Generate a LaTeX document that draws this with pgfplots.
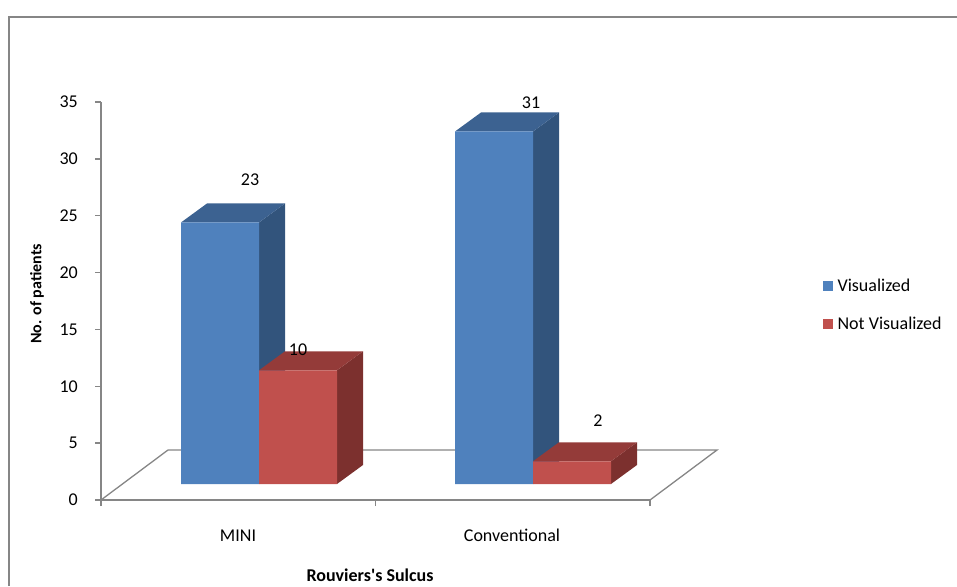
\documentclass[border=0pt]{standalone}
\usepackage{pgfplots}
\pgfplotsset{compat=1.18}
\usepackage{pgfplotstable}
\usepackage{fontspec}
\setmainfont{Carlito}
\definecolor{vblue}{HTML}{4F81BD}
\definecolor{vbluetop}{HTML}{3C6291}
\definecolor{vblueside}{HTML}{32547C}
\definecolor{nred}{HTML}{C0504D}
\definecolor{nredtop}{HTML}{943B39}
\definecolor{nredside}{HTML}{7C302E}
\definecolor{axgray}{HTML}{868686}

% front-face bar values (x = category position: MINI, Conventional)
\pgfplotstableread{
x y
137 23
411 31
}\vis
\pgfplotstableread{
x y
137 10
411 2
}\notvis

\begin{document}
\begin{tikzpicture}[font=\fontsize{18}{21}\selectfont]
\path[use as bounding box] (0,0) rectangle (957pt,586pt);
\draw[axgray, line width=2.5pt] (9pt,0pt) -- (9pt,569pt) -- (957pt,569pt);
\begin{axis}[
  at={(101pt,86pt)}, anchor=south west,
  x=1pt, y=11.371pt,
  xmin=0, xmax=549, ymin=0, ymax=35,
  enlargelimits=false, clip=false,
  axis lines*=left,
  axis line style={axgray, line width=1.3pt},
  tick style={axgray, line width=1.3pt},
  tick align=outside, major tick length=6pt,
  ytick={0,5,...,35},
  xtick={0,274.5,549}, xticklabels={},
  extra x ticks={137,411}, extra x tick labels={MINI,Conventional},
  extra x tick style={major tick length=0pt},
  xticklabel style={anchor=base, yshift=-41pt, text=black},
  yticklabel style={anchor=east, inner sep=0pt, xshift=-17pt, text=black},
  /pgf/number format/assume math mode=true,
  xlabel={\bfseries Rouviers\textquotesingle s Sulcus},
  ylabel={\fontsize{16}{19}\selectfont\bfseries No. of patients},
  xlabel style={at={(axis description cs:0.49,-0.188)}, anchor=center},
  ylabel style={at={(axis description cs:-0.1166,0.518)}, anchor=center},
  legend cell align=left,
  legend style={at={(axis description cs:1.3151,0.49)}, anchor=west,
    draw=none, fill=none, inner sep=0pt, row sep=24pt, column sep=5pt,
    nodes={inner sep=0pt}},
  no markers,
]
% floor
\addplot[draw=axgray, line width=1.3pt, forget plot] coordinates {(0,0) (549,0) (616,4.397) (67,4.397)} --cycle;

% Visualized: side and top faces
\addplot[fill=vblueside, draw=none, forget plot, yshift=16pt] coordinates {(158,0) (158,23) (184,24.671) (184,1.671)} --cycle;
\addplot[fill=vbluetop, draw=none, forget plot, yshift=16pt] coordinates {(80,23) (106,24.671) (184,24.671) (158,23)} --cycle;
\addplot[fill=vblueside, draw=none, forget plot, yshift=16pt] coordinates {(432,0) (432,31) (458,32.671) (458,1.671)} --cycle;
\addplot[fill=vbluetop, draw=none, forget plot, yshift=16pt] coordinates {(354,31) (380,32.671) (458,32.671) (432,31)} --cycle;
% Visualized: front faces
\addplot[ybar, bar width=78pt, bar shift=-18pt, fill=vblue, draw=none, forget plot, yshift=16pt]
  table[x=x, y=y] {\vis};

% Not Visualized: side and top faces
\addplot[fill=nredside, draw=none, forget plot, yshift=16pt] coordinates {(236,0) (236,10) (262,11.671) (262,1.671)} --cycle;
\addplot[fill=nredtop, draw=none, forget plot, yshift=16pt] coordinates {(158,10) (184,11.671) (262,11.671) (236,10)} --cycle;
\addplot[fill=nredside, draw=none, forget plot, yshift=16pt] coordinates {(510,0) (510,2) (536,3.671) (536,1.671)} --cycle;
\addplot[fill=nredtop, draw=none, forget plot, yshift=16pt] coordinates {(432,2) (458,3.671) (536,3.671) (510,2)} --cycle;
% Not Visualized: front faces
\addplot[ybar, bar width=78pt, bar shift=60pt, fill=nred, draw=none, forget plot, yshift=16pt]
  table[x=x, y=y] {\notvis};

% value labels
\node at (axis cs:149,28.14) {23};
\node at (axis cs:197,13.19) {10};
\node at (axis cs:430,34.92) {31};
\node at (axis cs:497,6.95) {2};

\addlegendimage{legend image code/.code={\fill[vblue] (0pt,-4.5pt) rectangle (9pt,4.5pt);}}
\addlegendentry{Visualized}
\addlegendimage{legend image code/.code={\fill[nred] (0pt,-4.5pt) rectangle (9pt,4.5pt);}}
\addlegendentry{Not Visualized}
\end{axis}
\end{tikzpicture}
\end{document}
